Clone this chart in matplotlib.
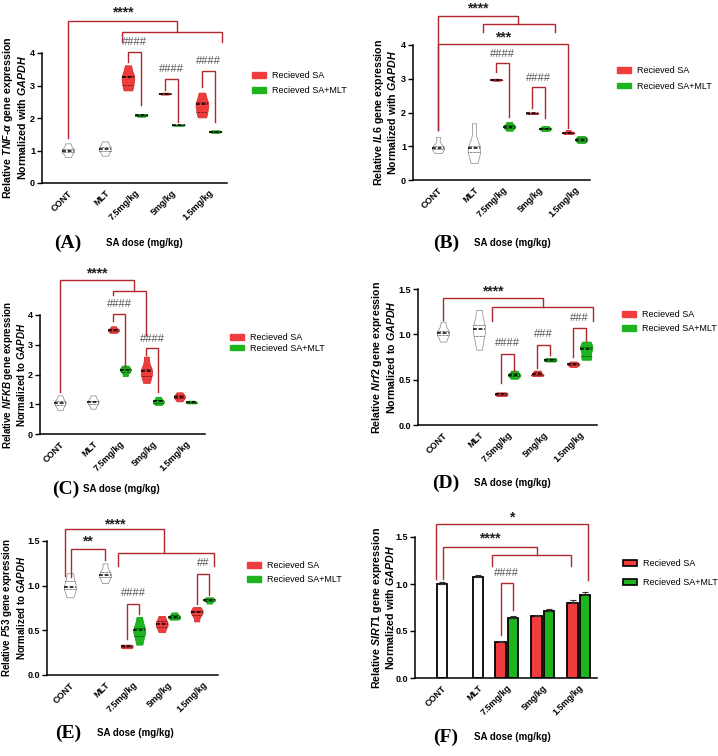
import numpy as np
import matplotlib
matplotlib.use("Agg")
import matplotlib.pyplot as plt
from matplotlib import cbook, mlab
from matplotlib.patches import Patch

plt.rcParams["font.family"] = ["Liberation Sans", "DejaVu Sans"]
plt.rcParams["mathtext.fontset"] = "custom"
plt.rcParams["mathtext.rm"] = "Liberation Sans:bold"
plt.rcParams["mathtext.it"] = "Liberation Sans:italic:bold"
plt.rcParams["mathtext.bf"] = "Liberation Sans:bold"

RED = "#F03C3C"
GREEN = "#1DB41D"
BRK = "#B0282B"

groups = ["CONT", "MLT", "7.5mg/kg", "5mg/kg", "1.5mg/kg"]
legend_labels = ["Recieved SA", "Recieved SA+MLT"]

# (A) TNF-alpha, replicate values per group
tnf_cont = [0.80, 0.95, 1.00, 1.05, 1.22]
tnf_mlt = [0.84, 1.00, 1.05, 1.12, 1.28]
tnf_sa = [[2.85, 3.02, 3.25, 3.30, 3.62],
          [2.72, 2.74, 2.75, 2.76, 2.78],
          [2.02, 2.20, 2.42, 2.48, 2.78]]
tnf_samlt = [[2.04, 2.07, 2.08, 2.10, 2.12],
             [1.76, 1.77, 1.78, 1.79, 1.80],
             [1.54, 1.57, 1.58, 1.60, 1.62]]

# (B) IL6
il6_cont = [0.80, 0.93, 0.95, 1.00, 1.28]
il6_mlt = [0.50, 0.82, 0.95, 1.00, 1.68]
il6_sa = [[2.94, 2.96, 2.97, 2.98, 3.00],
          [1.96, 1.97, 1.98, 1.99, 2.00],
          [1.36, 1.39, 1.40, 1.42, 1.48]]
il6_samlt = [[1.46, 1.55, 1.58, 1.62, 1.72],
             [1.45, 1.50, 1.52, 1.55, 1.60],
             [1.10, 1.16, 1.20, 1.24, 1.30]]

# (C) NFKB
nfkb_cont = [0.80, 0.98, 1.05, 1.10, 1.30]
nfkb_mlt = [0.85, 1.02, 1.08, 1.12, 1.30]
nfkb_sa = [[3.40, 3.46, 3.50, 3.53, 3.62],
           [1.72, 1.95, 2.12, 2.20, 2.60],
           [1.10, 1.20, 1.25, 1.30, 1.40]]
nfkb_samlt = [[1.95, 2.10, 2.15, 2.20, 2.30],
              [0.98, 1.05, 1.10, 1.14, 1.25],
              [1.03, 1.05, 1.07, 1.09, 1.12]]

# (D) Nrf2
nrf2_cont = [0.92, 0.99, 1.02, 1.04, 1.14]
nrf2_mlt = [0.83, 0.98, 1.06, 1.10, 1.27]
nrf2_sa = [[0.32, 0.33, 0.34, 0.35, 0.36],
           [0.54, 0.55, 0.56, 0.58, 0.60],
           [0.64, 0.66, 0.67, 0.68, 0.70]]
nrf2_samlt = [[0.51, 0.54, 0.55, 0.57, 0.60],
              [0.70, 0.71, 0.72, 0.73, 0.74],
              [0.72, 0.76, 0.84, 0.86, 0.92]]

# (E) P53
p53_cont = [0.87, 0.96, 0.98, 1.05, 1.14]
p53_mlt = [1.03, 1.10, 1.12, 1.15, 1.25]
p53_sa = [[0.30, 0.31, 0.32, 0.33, 0.34],
          [0.48, 0.54, 0.57, 0.60, 0.66],
          [0.60, 0.67, 0.70, 0.72, 0.76]]
p53_samlt = [[0.34, 0.44, 0.50, 0.53, 0.65],
             [0.62, 0.64, 0.65, 0.67, 0.70],
             [0.80, 0.83, 0.84, 0.85, 0.87]]

# (F) SIRT1, mean and SEM
sirt_ctrl_mean = [1.00, 1.07]
sirt_ctrl_sem = [0.02, 0.03]
sirt_sa_mean = [0.38, 0.66, 0.80]
sirt_sa_sem = [0.01, 0.015, 0.025]
sirt_samlt_mean = [0.64, 0.71, 0.88]
sirt_samlt_sem = [0.015, 0.02, 0.035]

W, H = 718, 756
fig = plt.figure(figsize=(W / 100, H / 100), dpi=100)

P = np.array([0, 1, 1.8, 2.8, 3.8])
D = 0.18


def make_axes(L, R, T, B, cont_px, unit, ytop, yticks, yfmt):
    ax = fig.add_axes([L / W, 1 - B / H, (R - L) / W, (B - T) / H])
    ax.set_xlim(-(cont_px - L) / unit, (R - cont_px) / unit)
    ax.set_ylim(0, ytop)
    ax.set_yticks(yticks)
    ax.set_yticklabels([yfmt % t for t in yticks], fontsize=6.5, fontweight="bold")
    ax.set_xticks(P)
    ax.set_xticklabels(groups, rotation=45, ha="right", rotation_mode="anchor",
                       fontsize=6.5, fontweight="bold")
    ax.tick_params(axis="x", length=0, pad=4)
    ax.tick_params(axis="y", length=3.5, width=1, pad=1.5)
    for s in ["top", "right"]:
        ax.spines[s].set_visible(False)
    for s in ["left", "bottom"]:
        ax.spines[s].set_linewidth(1.1)
    return ax


def draw_violin(ax, vals, x, face, edge, width=0.34, bw=0.55):
    vals = np.asarray(vals, float)
    st = cbook.violin_stats([vals], lambda v, c: mlab.GaussianKDE(v, bw).evaluate(c))
    parts = ax.violin(st, positions=[x], widths=width, showextrema=False)
    body = parts["bodies"][0]
    body.set_facecolor(face)
    body.set_edgecolor(edge)
    body.set_alpha(1)
    body.set_linewidth(0.6)
    s = st[0]
    scale = width / 2 / s["vals"].max()
    med = np.median(vals)
    q1, q3 = np.percentile(vals, [25, 75])
    for y, ls, lw in [(med, (0, (2.5, 1.2)), 1.1), (q1, (0, (1, 1)), 0.5), (q3, (0, (1, 1)), 0.5)]:
        h = max(np.interp(y, s["coords"], s["vals"]) * scale, 0.06)
        ax.plot([x - h, x + h], [y, y], color="k", ls=ls, lw=lw, zorder=3)


def violin_panel(ax, cont, mlt, sa, samlt):
    draw_violin(ax, cont, P[0], "white", "#9a9a9a")
    draw_violin(ax, mlt, P[1], "white", "#9a9a9a")
    for i in range(3):
        draw_violin(ax, sa[i], P[i + 2] - D, RED, "#d03030")
        draw_violin(ax, samlt[i], P[i + 2] + D, GREEN, "#18a018")


def annotate(ax, brackets, labels):
    for x1, x2, y, lo1, lo2 in brackets:
        ax.plot([x1, x1, x2, x2], [lo1, y, y, lo2], color=BRK, lw=1.0,
                clip_on=False, solid_joinstyle="miter")
    for x, y, t in labels:
        if "*" in t:
            ax.text(x, y, t, ha="center", va="center", fontsize=10, fontweight="bold",
                    color="#222222")
        else:
            ax.text(x, y, t, ha="center", va="center", fontsize=8, color="#555555")


def ylabel(ax, gene, norm, axw, off, fs=7.7):
    ax.set_ylabel(r"Relative $\mathit{%s}$ gene expression" % gene + "\n" +
                  r"%s $\mathit{GAPDH}$" % norm, fontsize=fs, fontweight="bold",
                  linespacing=1.05)
    ax.yaxis.set_label_coords(-off / axw, 0.5)


def legend(x, y, spacing, edge=None):
    if edge:
        h = [Patch(facecolor=RED, edgecolor=edge, lw=1.2),
             Patch(facecolor=GREEN, edgecolor=edge, lw=1.2)]
    else:
        h = [Patch(facecolor=RED, edgecolor=RED), Patch(facecolor=GREEN, edgecolor=GREEN)]
    fig.legend(h, legend_labels, loc="upper left", bbox_to_anchor=(x / W, 1 - y / H),
               frameon=False, fontsize=6.5, handlelength=1.5, handleheight=0.6,
               labelspacing=spacing, borderaxespad=0, borderpad=0, handletextpad=0.7)


def panel_label(letter, x, y, xt):
    fig.text(x / W, 1 - y / H, "(%s)" % letter, fontsize=14, fontweight="bold",
             family="Liberation Serif", ha="center", va="center")
    fig.text(xt / W, 1 - y / H, "SA dose (mg/kg)", fontsize=7, fontweight="bold",
             ha="left", va="center")


# (A)
ax = make_axes(42, 227, 53, 183, 68, 37, 4, [0, 1, 2, 3, 4], "%d")
violin_panel(ax, tnf_cont, tnf_mlt, tnf_sa, tnf_samlt)
annotate(ax, [(0, 2.95, 5.0, 1.38, 4.65), (1.46, 4.16, 4.65, 4.34, 4.34),
              (1.62, 1.98, 4.03, 3.72, 2.4), (2.62, 2.98, 3.2, 2.85, 1.88),
              (3.62, 3.98, 3.45, 2.95, 1.88)],
         [(1.47, 5.25, "****"), (1.8, 4.34, "####"), (2.8, 3.5, "####"), (3.8, 3.75, "####")])
ylabel(ax, r"TNF\text{-}α", "Normalized with", 185, 14)
legend(252, 71, 0.65)
panel_label("A", 68, 243, 106)

# (B)
ax = make_axes(413, 590, 45, 180, 438, 36, 4, [0, 1, 2, 3, 4], "%d")
violin_panel(ax, il6_cont, il6_mlt, il6_sa, il6_samlt)
annotate(ax, [(0, 2.22, 4.87, 1.48, 4.62), (1.25, 3.25, 4.62, 4.38, 4.38),
              (0, 3.62, 4.03, 1.48, 1.54), (1.62, 1.98, 3.47, 3.2, 1.87),
              (2.62, 2.98, 2.75, 2.13, 1.83)],
         [(1.11, 5.08, "****"), (1.8, 4.22, "***"), (1.8, 3.73, "####"), (2.8, 3.02, "####")])
ylabel(ax, "IL6", "Normalized with", 177, 15)
legend(617, 66, 0.75)
panel_label("B", 446, 243, 474)

# (C)
ax = make_axes(40, 205, 315, 434, 60, 33, 4, [0, 1, 2, 3, 4], "%d")
violin_panel(ax, nfkb_cont, nfkb_mlt, nfkb_sa, nfkb_samlt)
annotate(ax, [(0, 2.24, 5.18, 1.41, 4.81), (1.62, 2.62, 4.81, 4.67, 3.33),
              (1.62, 1.98, 4.03, 3.8, 2.26), (2.62, 2.98, 2.89, 2.66, 1.41)],
         [(1.12, 5.38, "****"), (1.8, 4.37, "####"), (2.8, 3.19, "####")])
ylabel(ax, "NFKB", "Normalized to", 165, 12.5, 7.0)
legend(230, 333, 0.2)
panel_label("C", 66, 489, 83)

# (D)
ax = make_axes(418, 597, 289, 425, 443, 36, 1.5, [0, 0.5, 1.0, 1.5], "%.1f")
violin_panel(ax, nrf2_cont, nrf2_mlt, nrf2_sa, nrf2_samlt)
annotate(ax, [(0, 2.78, 1.4, 1.16, 1.3), (1.36, 4.17, 1.3, 1.15, 1.15),
              (1.62, 1.98, 0.78, 0.46, 0.6), (2.62, 2.98, 0.88, 0.63, 0.77),
              (3.62, 3.98, 1.07, 0.75, 0.93)],
         [(1.39, 1.47, "****"), (1.8, 0.9, "####"), (2.8, 1.0, "###"), (3.8, 1.18, "###")])
ylabel(ax, "Nrf2", "Normalized to", 179, 21)
legend(622, 310, 0.55)
panel_label("D", 446, 483, 474)

# (E)
ax = make_axes(47, 218, 541, 675, 70, 35, 1.5, [0, 0.5, 1.0, 1.5], "%.1f")
violin_panel(ax, p53_cont, p53_mlt, p53_sa, p53_samlt)
annotate(ax, [(-0.14, 2.69, 1.63, 1.11, 1.37), (1.37, 4.11, 1.37, 1.22, 1.22),
              (0.03, 1.0, 1.41, 1.1, 1.29), (1.62, 1.98, 0.8, 0.4, 0.68),
              (3.62, 3.98, 1.13, 0.8, 0.9)],
         [(1.27, 1.69, "****"), (0.5, 1.49, "**"), (1.8, 0.92, "####"), (3.8, 1.25, "##")])
ylabel(ax, "P53", "Normalized to", 171, 20, 7.0)
legend(247, 561, 0.55)
panel_label("E", 68, 733, 97)

# (F)
ax = make_axes(415, 597, 537, 678, 442, 36, 1.5, [0, 0.5, 1.0, 1.5], "%.1f")
bw = 0.29
ekw = dict(lw=0.8, capthick=0.8, ecolor="#333333")
ax.bar(P[:2], sirt_ctrl_mean, width=bw, color="white", edgecolor="k", lw=1.3,
       yerr=[[0, 0], sirt_ctrl_sem], capsize=2, error_kw=ekw)
ax.bar(P[2:] - 0.17, sirt_sa_mean, width=bw, color=RED, edgecolor="k", lw=1.3,
       yerr=[[0, 0, 0], sirt_sa_sem], capsize=2, error_kw=ekw)
ax.bar(P[2:] + 0.17, sirt_samlt_mean, width=bw, color=GREEN, edgecolor="k", lw=1.3,
       yerr=[[0, 0, 0], sirt_samlt_sem], capsize=2, error_kw=ekw)
annotate(ax, [(-0.17, 4.06, 1.64, 1.05, 1.04), (0.03, 2.64, 1.39, 1.05, 1.31),
              (1.39, 3.58, 1.31, 1.19, 1.19), (1.63, 1.97, 1.01, 0.46, 0.72)],
         [(1.94, 1.71, "*"), (1.33, 1.48, "****"), (1.8, 1.12, "####")])
ylabel(ax, "SIRT1", "Normalized with", 182, 19)
legend(623, 559, 1.1, edge="k")
panel_label("F", 446, 737, 474)

fig.savefig("out.png", dpi=100)
